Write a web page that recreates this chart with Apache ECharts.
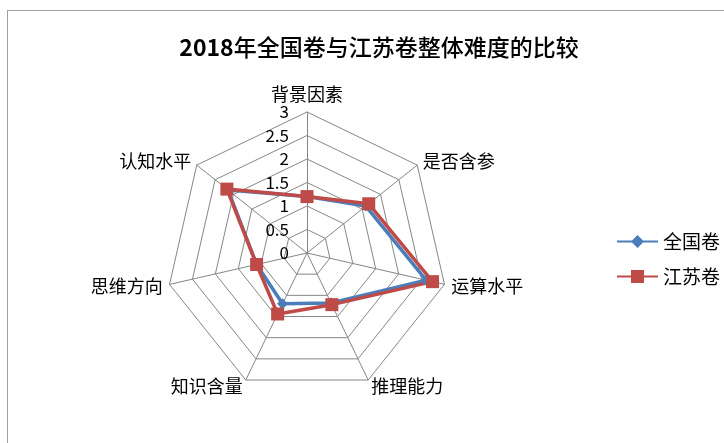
<!DOCTYPE html>
<html><head><meta charset="utf-8">
<script src="https://cdn.jsdelivr.net/npm/echarts@6/dist/echarts.min.js"></script>
<style>
html,body{margin:0;padding:0;background:#fff;}
#frame{position:absolute;left:7px;top:10px;width:740px;height:460px;border:1px solid #a0a0a0;box-sizing:border-box;}
#c{position:absolute;left:0;top:0;width:724px;height:443px;}
</style></head>
<body>
<div id="frame"></div>
<div id="c"></div>
<script>
const titleYear = '2018';
const titleRest = '年全国卷与江苏卷整体难度的比较';
const indicators = ['背景因素','是否含参','运算水平','推理能力','知识含量','思维方向','认知水平'];
const maxValue = 3;
const seriesNames = ['全国卷','江苏卷'];
const quanguo = [1.2, 1.6, 2.6, 1.18, 1.2, 1.1, 2.15];
const jiangsu = [1.2, 1.68, 2.74, 1.22, 1.44, 1.1, 2.18];

// ECharts radar runs counter-clockwise; reorder so the chart reads clockwise like the reference
const order = [0].concat(indicators.map((_, i) => i).slice(1).reverse());
const pick = arr => order.map(i => arr[i]);

const chart = echarts.init(document.getElementById('c'));
const font = '"Noto Sans CJK SC", "Noto Sans", sans-serif';
const diamondIcon = 'path://M0,5.5 L15,5.5 L20.5,0 L26,5.5 L41,5.5 L41,7.5 L26,7.5 L20.5,13 L15,7.5 L0,7.5 Z';
const squareIcon = 'path://M0,5.5 L14,5.5 L14,0 L27,0 L27,5.5 L41,5.5 L41,7.5 L27,7.5 L27,13 L14,13 L14,7.5 L0,7.5 Z';
chart.setOption({
  backgroundColor: 'transparent',
  animation: false,
  title: {
    text: '{b|' + titleYear + '}{n|' + titleRest + '}', left: 374, top: 31, textAlign: 'center',
    textStyle: {rich: {
      b: {fontFamily: font, fontSize: 23, fontWeight: 'bold', color: '#000'},
      n: {fontFamily: font, fontSize: 23, fontWeight: 500, color: '#000'}
    }}
  },
  legend: {
    orient: 'vertical', left: 612, top: 227, itemGap: 16,
    itemWidth: 41, itemHeight: 13,
    textStyle: {fontFamily: font, fontSize: 19, color: '#000'},
    data: [
      {name: seriesNames[0], icon: diamondIcon, itemStyle: {color: '#4A7EBB'}},
      {name: seriesNames[1], icon: squareIcon, itemStyle: {color: '#BE4B48'}}
    ]
  },
  radar: {
    center: [307, 253], radius: 141, shape: 'polygon', splitNumber: 6,
    startAngle: 90,
    indicator: order.map((idx, i) => ({
      name: indicators[idx], min: 0, max: maxValue,
      axisLabel: i === 0 ? {show: true} : {show: false}
    })),
    axisName: {color: '#000', fontFamily: font, fontSize: 18},
    nameGap: 7,
    axisLine: {lineStyle: {color: '#868686', width: 1}},
    splitLine: {lineStyle: {color: '#868686', width: 1}},
    splitArea: {show: false},
    axisLabel: {show: false, color: '#000', fontFamily: font, fontSize: 17, margin: 18,
      formatter: v => String(v)}
  },
  series: [{
    type: 'radar',
    data: [
      {name: seriesNames[0], value: pick(quanguo), symbol: 'diamond', symbolSize: 11,
       lineStyle: {color: '#4A7EBB', width: 3.5}, itemStyle: {color: '#4A7EBB'}},
      {name: seriesNames[1], value: pick(jiangsu), symbol: 'rect', symbolSize: 13,
       lineStyle: {color: '#BE4B48', width: 3.5}, itemStyle: {color: '#BE4B48'}}
    ]
  }]
});
</script>
</body></html>
